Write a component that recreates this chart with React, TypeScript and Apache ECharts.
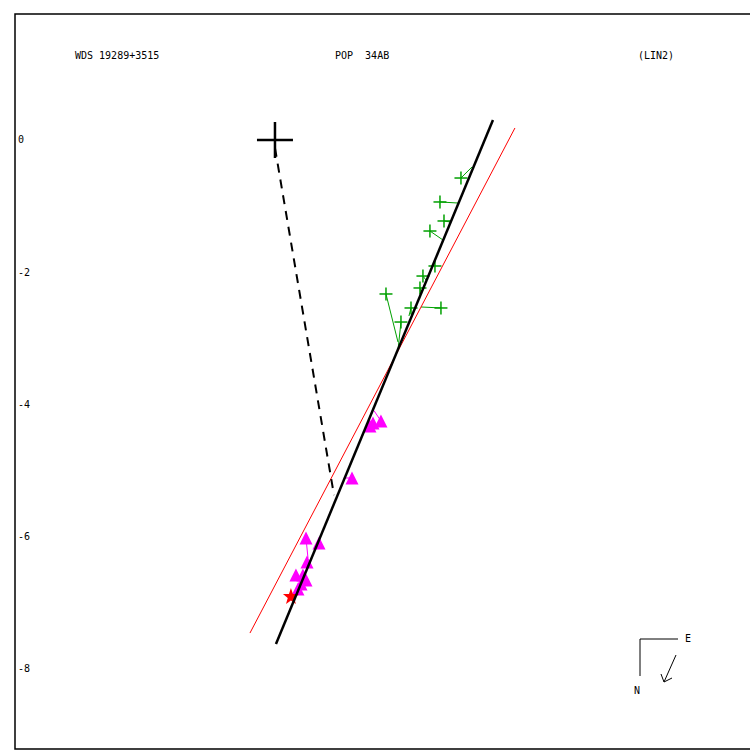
import React, { useEffect, useRef } from "react";
import * as echarts from "echarts";

// Header texts
const headerLeft = "WDS 19289+3515";
const headerMid = "POP  34AB";
const headerRight = "(LIN2)";

// Y tick labels
const yTicks = [0, -2, -4, -6, -8];

// Primary star (origin)
const primary = [[0, 0]];

// Fitted linear motion (black) and alternative (red)
const blackLine = [[0.015, -7.636], [3.303, 0.303]];
const redLine = [[-0.379, -7.47], [3.636, 0.182]];
const dashedLine = [[0, -0.12], [0.894, -5.38]];

// Green crosses: observed x, y, predicted x, y
const greenObsX = [2.818, 2.5, 2.561, 2.348, 2.424, 2.242, 2.197, 1.682, 2.061, 2.515, 1.909];
const greenObsY = [-0.576, -0.939, -1.227, -1.379, -1.909, -2.061, -2.242, -2.333, -2.545, -2.545, -2.758];
const greenPredX = [2.985, 2.773, 2.652, 2.545, 2.394, 2.288, 2.212, 1.864, 2.03, 2.212, 1.864];
const greenPredY = [-0.409, -0.955, -1.242, -1.515, -1.894, -2.121, -2.303, -3.061, -2.667, -2.53, -3.182];

// Magenta triangles
const triX = [1.606, 1.485, 1.439, 1.167, 0.47, 0.667, 0.485, 0.318, 0.424, 0.47, 0.394, 0.348];
const triY = [-4.258, -4.288, -4.333, -5.121, -6.03, -6.106, -6.394, -6.591, -6.591, -6.667, -6.727, -6.803];
// Magenta residual lines (observed -> predicted)
const magResid = [
  [1.606, -4.258, 1.5, -4.1],
  [1.167, -5.121, 1.061, -5.121],
  [0.47, -6.03, 0.5, -6.333],
];

// Red star
const star = [[0.242, -6.909]];

const GREEN = "#00a000";
const MAGENTA = "#ff00ff";
const FONT = "DejaVu Sans Mono";

export default function App() {
  const ref = useRef<HTMLDivElement>(null);
  useEffect(() => {
    if (!ref.current) return;
    const chart = echarts.init(ref.current, null, { renderer: "svg" });

    const crossSeries = (data: number[][], half: number, color: string, lw: number) => ({
      type: "custom",
      data,
      clip: false,
      renderItem: (params: any, api: any) => {
        const p = api.coord([api.value(0), api.value(1)]);
        return {
          type: "group",
          children: [
            { type: "line", shape: { x1: p[0] - half, y1: p[1], x2: p[0] + half, y2: p[1] }, style: { stroke: color, lineWidth: lw } },
            { type: "line", shape: { x1: p[0], y1: p[1] - half, x2: p[0], y2: p[1] + half }, style: { stroke: color, lineWidth: lw } },
          ],
        };
      },
    });

    const segSeries = (data: number[][], color: string, lw: number) => ({
      type: "custom",
      data,
      renderItem: (params: any, api: any) => {
        const a = api.coord([api.value(0), api.value(1)]);
        const b = api.coord([api.value(2), api.value(3)]);
        return { type: "line", shape: { x1: a[0], y1: a[1], x2: b[0], y2: b[1] }, style: { stroke: color, lineWidth: lw } };
      },
    });

    const greenObs = greenObsX.map((x, i) => [x, greenObsY[i]]);
    const greenResid = greenObsX.map((x, i) => [x, greenObsY[i], greenPredX[i], greenPredY[i]]);
    const tris = triX.map((x, i) => [x, triY[i]]);

    chart.setOption({
      animation: false,
      backgroundColor: "#ffffff",
      grid: {
        left: 15,
        top: 14,
        width: 745,
        height: 735,
        show: true,
        borderColor: "#000",
        borderWidth: 1.5,
        backgroundColor: "transparent",
      },
      xAxis: {
        type: "value",
        min: -3.939,
        max: 7.349,
        axisLine: { show: false },
        axisTick: { show: false },
        axisLabel: { show: false },
        splitLine: { show: false },
      },
      yAxis: {
        type: "value",
        min: -9.227,
        max: 1.909,
        axisLine: { show: false },
        axisTick: { show: false },
        splitLine: { show: false },
        axisLabel: {
          inside: true,
          margin: 3,
          customValues: yTicks,
          color: "#000",
          fontFamily: FONT,
          fontSize: 10,
        },
      },
      graphic: [
        { type: "text", x: 75, y: 55, style: { text: headerLeft, font: `10px ${FONT}`, fill: "#000", verticalAlign: "middle" } },
        { type: "text", x: 335, y: 55, style: { text: headerMid, font: `10px ${FONT}`, fill: "#000", verticalAlign: "middle" } },
        { type: "text", x: 638, y: 55, style: { text: headerRight, font: `10px ${FONT}`, fill: "#000", verticalAlign: "middle" } },
        { type: "polyline", shape: { points: [[678, 639], [640, 639], [640, 676]] }, style: { stroke: "#000", lineWidth: 1, fill: "none" } },
        { type: "text", x: 685, y: 638, style: { text: "E", font: `10px ${FONT}`, fill: "#000", verticalAlign: "middle" } },
        { type: "text", x: 634, y: 690, style: { text: "N", font: `10px ${FONT}`, fill: "#000", verticalAlign: "middle" } },
        { type: "line", shape: { x1: 676, y1: 655, x2: 664, y2: 682 }, style: { stroke: "#000", lineWidth: 1 } },
        { type: "polyline", shape: { points: [[661, 674], [664, 682], [672, 678]] }, style: { stroke: "#000", lineWidth: 1, fill: "none" } },
      ],
      series: [
        {
          type: "line",
          data: redLine,
          showSymbol: false,
          lineStyle: { color: "#ff0000", width: 1 },
        },
        {
          type: "line",
          data: dashedLine,
          showSymbol: false,
          lineStyle: { color: "#000", width: 2, type: [9, 7] },
        },
        segSeries(greenResid, GREEN, 1),
        segSeries(magResid, MAGENTA, 1),
        {
          type: "line",
          data: blackLine,
          showSymbol: false,
          lineStyle: { color: "#000", width: 2.5 },
        },
        crossSeries(greenObs, 6.5, GREEN, 1.5),
        {
          type: "scatter",
          data: tris,
          symbol: "triangle",
          symbolSize: 13,
          itemStyle: { color: MAGENTA, opacity: 1 },
        },
        {
          type: "scatter",
          data: star,
          symbol:
            "path://M0,-10 L2.35,-3.24 L9.51,-3.09 L3.8,1.24 L5.88,8.09 L0,4 L-5.88,8.09 L-3.8,1.24 L-9.51,-3.09 L-2.35,-3.24 Z",
          symbolSize: 16,
          itemStyle: { color: "#ff0000", opacity: 1 },
        },
        crossSeries(primary, 18, "#000", 2.5),
      ],
    });
    return () => chart.dispose();
  }, []);
  return (
    <div
      ref={ref}
      style={{ position: "fixed", left: 0, top: 0, width: 765, height: 750, background: "#fff" }}
    />
  );
}
